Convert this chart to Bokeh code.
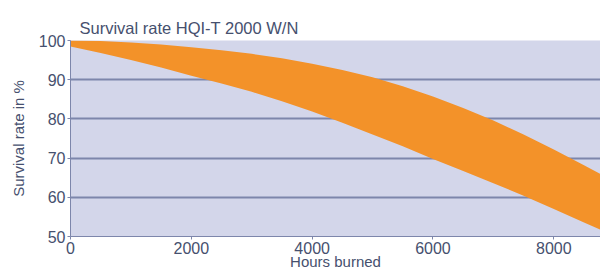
from bokeh.plotting import figure
from bokeh.embed import file_html
from bokeh.resources import INLINE
from bokeh.models import Range1d, FixedTicker, ColumnDataSource

# Data
hours = [0, 500, 1000, 1500, 2000, 2500, 3000, 3500, 4000, 4500,
         5000, 5500, 6000, 6500, 7000, 7500, 8000, 8500, 9000]
upper = [100, 99.9, 99.5, 99.0, 98.3, 97.5, 96.6, 95.5, 94.1, 92.5,
         90.6, 88.3, 85.7, 82.8, 79.6, 76.0, 72.2, 68.2, 64.0]
lower = [98.5, 96.8, 95.0, 93.1, 91.0, 89.0, 86.9, 84.5, 81.9, 79.0,
         76.0, 73.0, 69.8, 66.7, 63.6, 60.4, 57.0, 53.6, 50.2]
x_ticks = [0, 2000, 4000, 6000, 8000]
y_ticks = [50, 60, 70, 80, 90, 100]

title_text = "Survival rate HQI-T 2000 W/N"
x_label = "Hours burned"
y_label = "Survival rate in %"

FONT = "Liberation Sans"
TEXT = "#46506e"
GRID = "#7d86ab"
BG = "#d3d6ea"
ORANGE = "#f39229"

src = ColumnDataSource(dict(x=hours, y1=lower, y2=upper))

p = figure(width=600, height=272, output_backend="svg", toolbar_location=None,
           x_range=Range1d(0, 8773), y_range=Range1d(50, 100),
           min_border_left=70, min_border_right=0, min_border_top=40, min_border_bottom=34)

p.title.text = title_text
p.title.text_font = FONT
p.title.text_font_size = "16.5px"
p.title.text_font_style = "normal"
p.title.text_color = TEXT
p.title.offset = 9
p.title.standoff = 8

p.background_fill_color = BG
p.border_fill_color = "white"
p.outline_line_color = None

p.varea(x="x", y1="y1", y2="y2", source=src, fill_color=ORANGE, fill_alpha=1.0)

p.xgrid.visible = False
p.ygrid.ticker = FixedTicker(ticks=y_ticks)
p.ygrid.grid_line_color = GRID
p.ygrid.grid_line_width = 2

for ax in (p.xaxis[0], p.yaxis[0]):
    ax.axis_line_color = GRID
    ax.axis_line_width = 1
    ax.major_tick_line_color = GRID
    ax.major_tick_out = 3
    ax.major_tick_in = 0
    ax.minor_tick_line_color = None
    ax.major_label_text_font = FONT
    ax.major_label_text_font_size = "16px"
    ax.major_label_text_color = TEXT
    ax.axis_label_text_font = FONT
    ax.axis_label_text_font_size = "15px"
    ax.axis_label_text_font_style = "normal"
    ax.axis_label_text_color = TEXT
    ax.major_label_standoff = 2

p.xaxis.ticker = FixedTicker(ticks=x_ticks)
p.yaxis.ticker = FixedTicker(ticks=y_ticks)
p.xaxis.major_label_standoff = 2
p.xaxis.axis_label = x_label
p.yaxis.axis_label = y_label
p.xaxis.axis_label_standoff = -4
p.yaxis.axis_label_standoff = 9

open("out.html", "w").write(file_html(p, INLINE))
